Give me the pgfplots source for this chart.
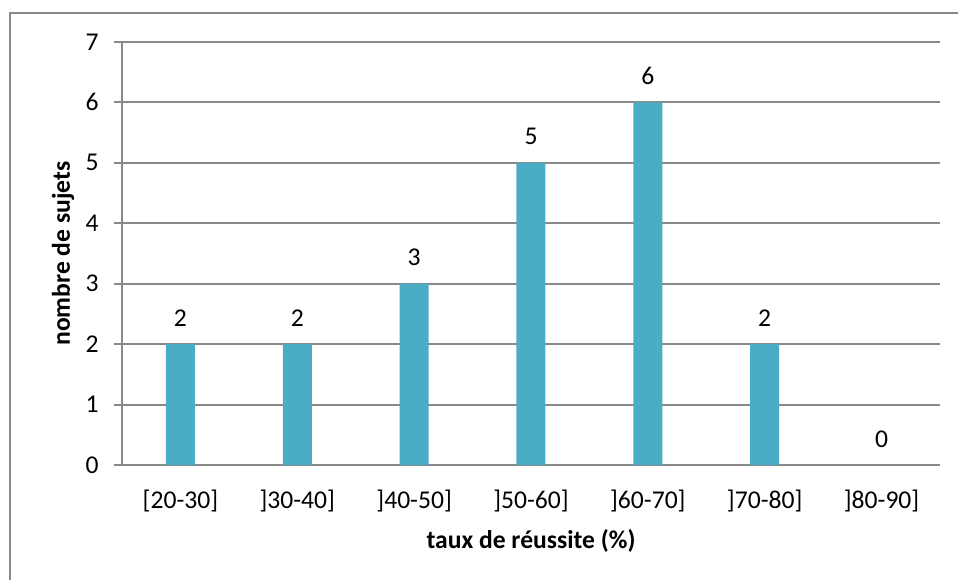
\documentclass[border=0pt]{standalone}
\usepackage{fontspec}
\setmainfont{Carlito}
\usepackage{pgfplots}
\pgfplotsset{compat=1.18}
\definecolor{barc}{HTML}{4BACC6}
\definecolor{gridc}{HTML}{898989}
\begin{document}
\fontsize{12.8pt}{15pt}\selectfont
\begin{tikzpicture}
\useasboundingbox (0,0) rectangle (479pt,-290pt);
\draw[gridc, line width=1pt] (5pt,-290pt) -- (5pt,-6.5pt) -- (479pt,-6.5pt);
\begin{axis}[
  at={(61pt,-232.5pt)}, anchor=south west,
  scale only axis, width=409pt, height=211.5pt,
  xmin=-0.5, xmax=6.5, ymin=0, ymax=7,
  ytick={0,...,7}, xtick={0,...,6},
  xticklabels={{[20-30]},{]30-40]},{]40-50]},{]50-60]},{]60-70]},{]70-80]},{]80-90]}},
  axis lines*=left,
  axis line style={gridc, line width=1pt},
  ymajorgrids, major grid style={gridc, line width=1pt},
  tick align=outside, major tick length=4pt,
  xtick style={draw=none},
  ytick style={gridc, line width=1pt},
  /pgf/number format/assume math mode=true,
  ticklabel style={font=\fontsize{12.8pt}{15pt}\selectfont, text=black},
  yticklabel style={anchor=east, inner sep=0pt, xshift=-7.5pt},
  xticklabel style={anchor=base, inner sep=0pt, yshift=-17.5pt},
  xlabel={\textbf{taux de réussite (\%)}},
  ylabel={\textbf{nombre de sujets}},
  xlabel style={at={(axis description cs:0.5,-0.1985)}, anchor=base, inner sep=0pt, font=\fontsize{12.8pt}{15pt}\selectfont},
  ylabel style={at={(axis description cs:-0.0636,0.5)}, anchor=base, inner sep=0pt, rotate=0, font=\fontsize{12.8pt}{15pt}\selectfont},
  nodes near coords,
  every node near coord/.append style={anchor=base, inner sep=0pt, yshift=9pt, font=\fontsize{12.8pt}{15pt}\selectfont, text=black},
]
\addplot[ybar, bar width=14.5pt, fill=barc, draw=none] coordinates {
  (0,2) (1,2) (2,3) (3,5) (4,6) (5,2) (6,0)
};
\end{axis}
\end{tikzpicture}
\end{document}
